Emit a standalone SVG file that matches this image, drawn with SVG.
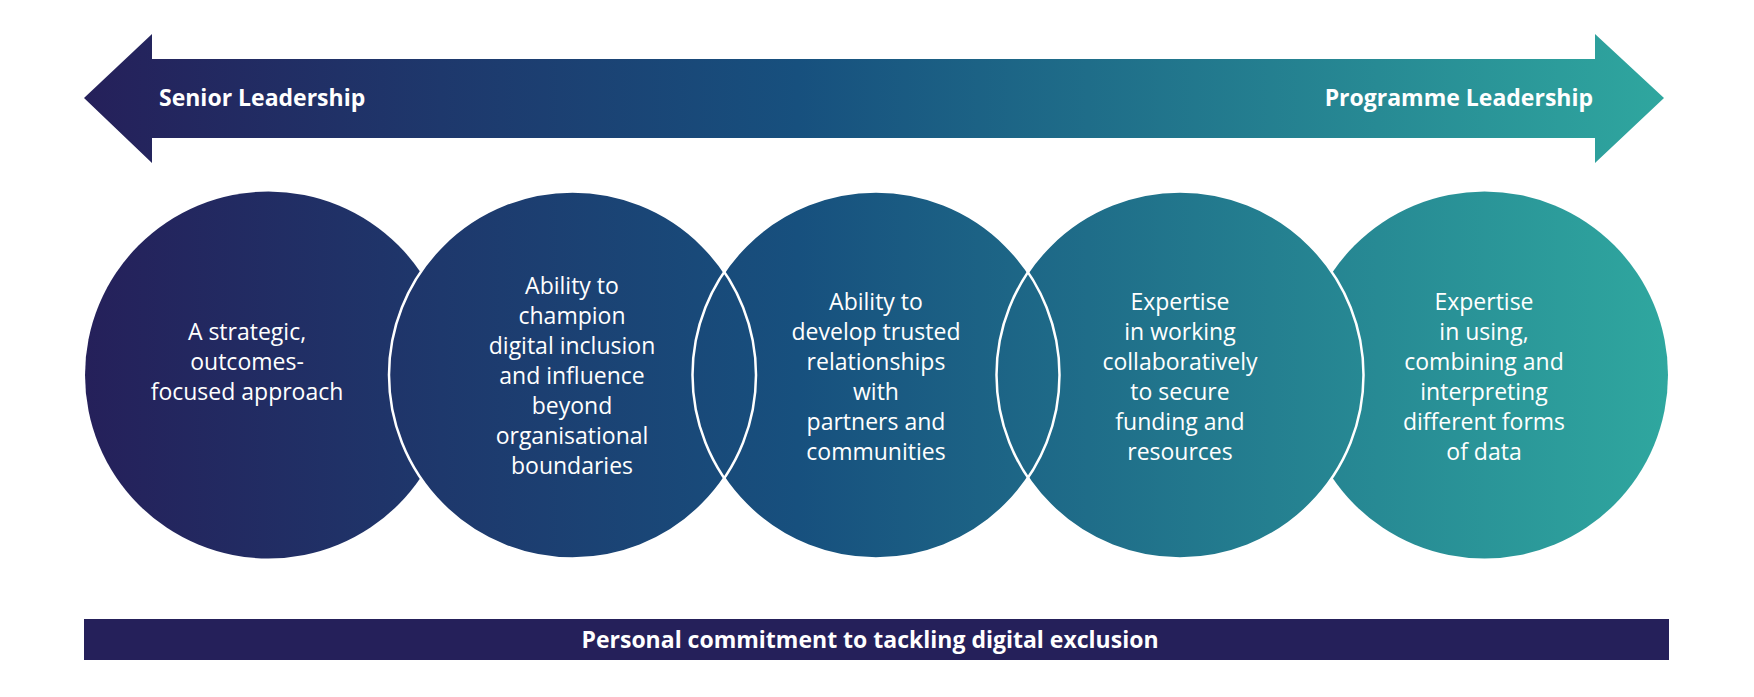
<svg xmlns="http://www.w3.org/2000/svg" width="1754" height="697" viewBox="0 0 1754 697">
<style>
.t{font-family:"Open Sans","Liberation Sans",sans-serif;fill:#fff;font-size:23px;text-anchor:middle}
.b{font-family:"Open Sans","Liberation Sans",sans-serif;fill:#fff;font-size:23px;font-weight:700}
.c{fill:url(#g)}
.s{fill:none;stroke:#fff;stroke-width:2.5}
</style>
<defs>
<linearGradient id="g" gradientUnits="userSpaceOnUse" x1="84" y1="0" x2="1669" y2="0">
<stop offset="0" stop-color="#25205a"/>
<stop offset="0.45" stop-color="#17507e"/>
<stop offset="1" stop-color="#2fa79f"/>
</linearGradient>
</defs>
<rect width="1754" height="697" fill="#fff"/>
<g id="arrow">
<polygon fill="url(#g)" points="84,98 152,34 152,59 1595,59 1595,34 1664,98 1595,163 1595,138 152,138 152,163"/>
<text class="b" x="159" y="106">Senior Leadership</text>
<text class="b" x="1593" y="106" text-anchor="end">Programme Leadership</text>
</g>
<g id="circles">
<circle class="c" cx="268.5" cy="375" r="183.5"/>
<circle class="c" cx="572.5" cy="375" r="183.5"/>
<circle class="c" cx="876" cy="375" r="183.5"/>
<circle class="c" cx="1180" cy="375" r="183.5"/>
<circle class="c" cx="1484.5" cy="375" r="183.5"/>
<circle class="s" cx="268.5" cy="375" r="183.5" stroke="none" style="stroke:none"/>
<circle class="s" cx="572.5" cy="375" r="183.5"/>
<circle class="s" cx="876" cy="375" r="183.5"/>
<circle class="s" cx="1180" cy="375" r="183.5"/>
<circle class="s" cx="1484.5" cy="375" r="183.5" style="stroke:none"/>
</g>
<g id="node1"><text class="t" x="247"><tspan x="247" y="340">A strategic,</tspan><tspan x="247" y="370">outcomes-</tspan><tspan x="247" y="400">focused approach</tspan></text></g>
<g id="node2"><text class="t"><tspan x="572" y="294">Ability to</tspan><tspan x="572" y="324">champion</tspan><tspan x="572" y="354">digital inclusion</tspan><tspan x="572" y="384">and influence</tspan><tspan x="572" y="414">beyond</tspan><tspan x="572" y="444">organisational</tspan><tspan x="572" y="474">boundaries</tspan></text></g>
<g id="node3"><text class="t"><tspan x="876" y="310">Ability to</tspan><tspan x="876" y="340">develop trusted</tspan><tspan x="876" y="370">relationships</tspan><tspan x="876" y="400">with</tspan><tspan x="876" y="430">partners and</tspan><tspan x="876" y="460">communities</tspan></text></g>
<g id="node4"><text class="t"><tspan x="1180" y="310">Expertise</tspan><tspan x="1180" y="340">in working</tspan><tspan x="1180" y="370">collaboratively</tspan><tspan x="1180" y="400">to secure</tspan><tspan x="1180" y="430">funding and</tspan><tspan x="1180" y="460">resources</tspan></text></g>
<g id="node5"><text class="t"><tspan x="1484" y="310">Expertise</tspan><tspan x="1484" y="340">in using,</tspan><tspan x="1484" y="370">combining and</tspan><tspan x="1484" y="400">interpreting</tspan><tspan x="1484" y="430">different forms</tspan><tspan x="1484" y="460">of data</tspan></text></g>
<g id="bar">
<rect x="84" y="619" width="1585" height="41" fill="#25205a"/>
<text class="b" x="870" y="648" text-anchor="middle">Personal commitment to tackling digital exclusion</text>
</g>
</svg>
